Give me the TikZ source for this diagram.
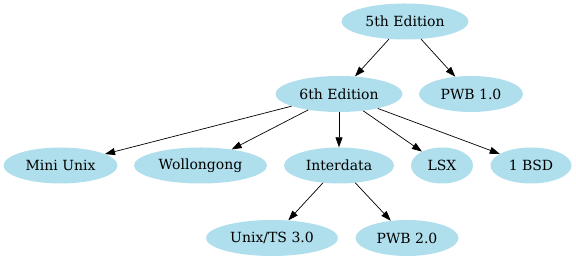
\documentclass[tikz,border=0pt]{standalone}
\usepackage{fontspec}
\setmainfont{DejaVu Serif}
\usetikzlibrary{shapes.geometric,arrows.meta}
\definecolor{lightblue}{HTML}{AFDEEC}

\begin{document}
\begin{tikzpicture}[x=1pt,y=1pt]
            \tikzstyle{release}=[ellipse, fill=lightblue, inner sep=0pt, minimum height=36pt, font=\fontsize{14}{16}\selectfont]
            \tikzstyle{derived}=[draw, line width=0.7pt, -{Triangle[length=10pt,width=7pt]}]
            \useasboundingbox (0,0) rectangle (576,261);
            % editions
            \node[release, minimum width=127pt] (fifth) at (405,239.5) {5th Edition};
            \node[release, minimum width=127pt] (sixth) at (339,167) {6th Edition};
            \node[release, minimum width=104pt] (pwbone) at (471,167) {PWB 1.0};
            % descendants of the 6th edition
            \node[release, minimum width=114pt] (miniunix) at (60.5,95.5) {Mini Unix};
            \node[release, minimum width=133pt] (wollongong) at (200.5,95.5) {Wollongong};
            \node[release, minimum width=110pt] (interdata) at (339,95.5) {Interdata};
            \node[release, minimum width=62pt] (lsx) at (442,95.5) {LSX};
            \node[release, minimum width=81pt] (bsd) at (531,95.5) {1 BSD};
            % descendants of interdata
            \node[release, minimum width=132pt] (unixts) at (272,23) {Unix/TS 3.0};
            \node[release, minimum width=103pt] (pwbtwo) at (407,23) {PWB 2.0};
            \draw[derived] (fifth) -- (sixth);
            \draw[derived] (fifth) -- (pwbone);
            \foreach \child in {miniunix,wollongong,interdata,lsx,bsd}
                \draw[derived] (sixth) -- (\child);
            \draw[derived] (interdata) -- (unixts);
            \draw[derived] (interdata) -- (pwbtwo);
        \end{tikzpicture}
\end{document}
